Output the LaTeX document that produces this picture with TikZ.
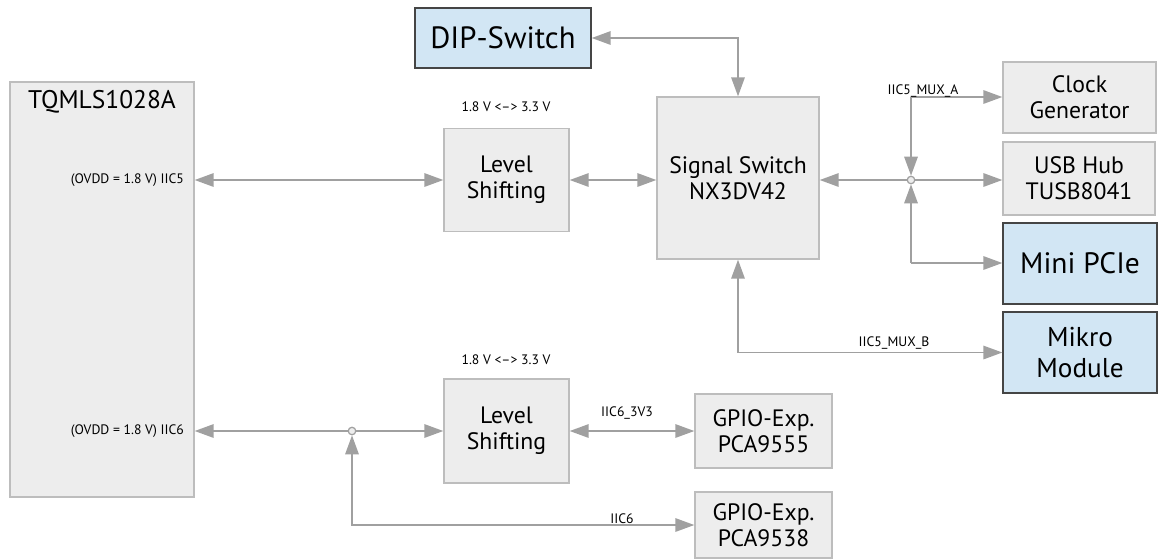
\documentclass[tikz,border=0pt]{standalone}
\usepackage{fontspec}
\setmainfont{PT Sans}
\usetikzlibrary{arrows.meta}
\definecolor{boxgray}{HTML}{EDEDED}
\definecolor{edgegray}{HTML}{BDBDBD}
\definecolor{boxblue}{HTML}{D2E6F4}
\definecolor{edgedark}{HTML}{454545}
\definecolor{wiregray}{HTML}{A0A0A0}

\begin{document}
\begin{tikzpicture}[x=0.02cm, y=-0.02cm,
  >={Triangle[length=0.38cm,width=0.27cm]},
  wire/.style={draw=wiregray, line width=0.9pt},
  box/.style={draw=edgegray, fill=boxgray, line width=0.8pt, align=center,
    inner sep=0pt, font=\fontsize{13.5}{15}\selectfont},
  bluebox/.style={box, draw=edgedark, fill=boxblue, font=\fontsize{16.8}{18}\selectfont},
  tag/.style={font=\fontsize{7.8}{9}\selectfont, inner sep=1pt},
  dot/.style={circle, draw=wiregray, fill=boxgray, line width=0.7pt, inner sep=0pt, minimum size=0.15cm}]
  \useasboundingbox (0,0) rectangle (1158,559);

  \node[box, minimum width=3.68cm, minimum height=8.3cm] (tq) at (102,289.5) {};
  \node[font=\fontsize{14.5}{16}\selectfont] (tqname) at (102,102) {TQMLS1028A};
  \node[tag, anchor=east] (p5) at (186,180) {(OVDD = 1.8 V) IIC5};
  \node[tag, anchor=east] (p6) at (186,431) {(OVDD = 1.8 V) IIC6};

  \node[bluebox, minimum width=3.52cm, minimum height=1.2cm, font=\fontsize{17.5}{19}\selectfont] (dip) at (503,38) {DIP-Switch};
  \node[box, minimum width=2.5cm, minimum height=2.06cm] (ls1) at (506.5,180) {Level\\Shifting};
  \node[box, minimum width=3.24cm, minimum height=3.24cm] (sw) at (738,178) {Signal Switch\\NX3DV42};
  \node[box, minimum width=3.06cm, minimum height=1.42cm] (clk) at (1079.5,97.5) {Clock\\Generator};
  \node[box, minimum width=3.04cm, minimum height=1.46cm] (usb) at (1079,178.5) {USB Hub\\TUSB8041};
  \node[bluebox, minimum width=3.08cm, minimum height=1.62cm] (pcie) at (1080,263.5) {Mini PCIe};
  \node[bluebox, minimum width=3.08cm, minimum height=1.62cm,
    font=\fontsize{15.5}{17.5}\selectfont] (mikro) at (1080,352.5) {Mikro\\Module};
  \node[box, minimum width=2.5cm, minimum height=2.08cm] (ls2) at (506.5,431) {Level\\Shifting};
  \node[box, minimum width=2.74cm, minimum height=1.48cm] (gp1) at (763.5,431) {GPIO-Exp.\\PCA9555};
  \node[box, minimum width=2.74cm, minimum height=1.32cm] (gp2) at (763.5,525) {GPIO-Exp.\\PCA9538};

  \node[tag] (v1) at (506,107) {1.8 V <--> 3.3 V};
  \node[tag] (v2) at (506,360) {1.8 V <--> 3.3 V};

  \node[dot] (j1) at (911,180) {};
  \node[dot] (j2) at (352,431) {};
  \coordinate (ka) at (911,97);
  \coordinate (kb) at (911,263);

  \draw[wire,<->] (tq.east |- p5) -- (ls1.west);
  \draw[wire,<->] (ls1.east) -- (ls1.east -| sw.west);
  \draw[wire,<->] (dip.east) -| (sw.north);
  \draw[wire,<-] (sw.east |- j1) -- (j1);
  \draw[wire,->] (j1) -- (j1 -| usb.west);
  \draw[wire,->] (ka) -- (ka -| clk.west);
  \draw[wire,->] (ka) -- (j1);
  \draw[wire,->] (kb) -- (kb -| pcie.west);
  \draw[wire,->] (kb) -- (j1);
  \draw[wire,<->] (sw.south) |- (mikro.west);
  \draw[wire,<-] (tq.east |- j2) -- (j2);
  \draw[wire,->] (j2) -- (ls2.west);
  \draw[wire,<->] (ls2.east) -- (gp1.west);
  \draw[wire,<->] (j2) |- (gp2.west);

  \node[tag] (mxa) at (923,91) {IIC5\_MUX\_A};
  \node[tag] (mxb) at (894,343) {IIC5\_MUX\_B};
  \node[tag] (l3v3) at (627,413) {IIC6\_3V3};
  \node[tag] (l6) at (622,519) {IIC6};
\end{tikzpicture}
\end{document}
